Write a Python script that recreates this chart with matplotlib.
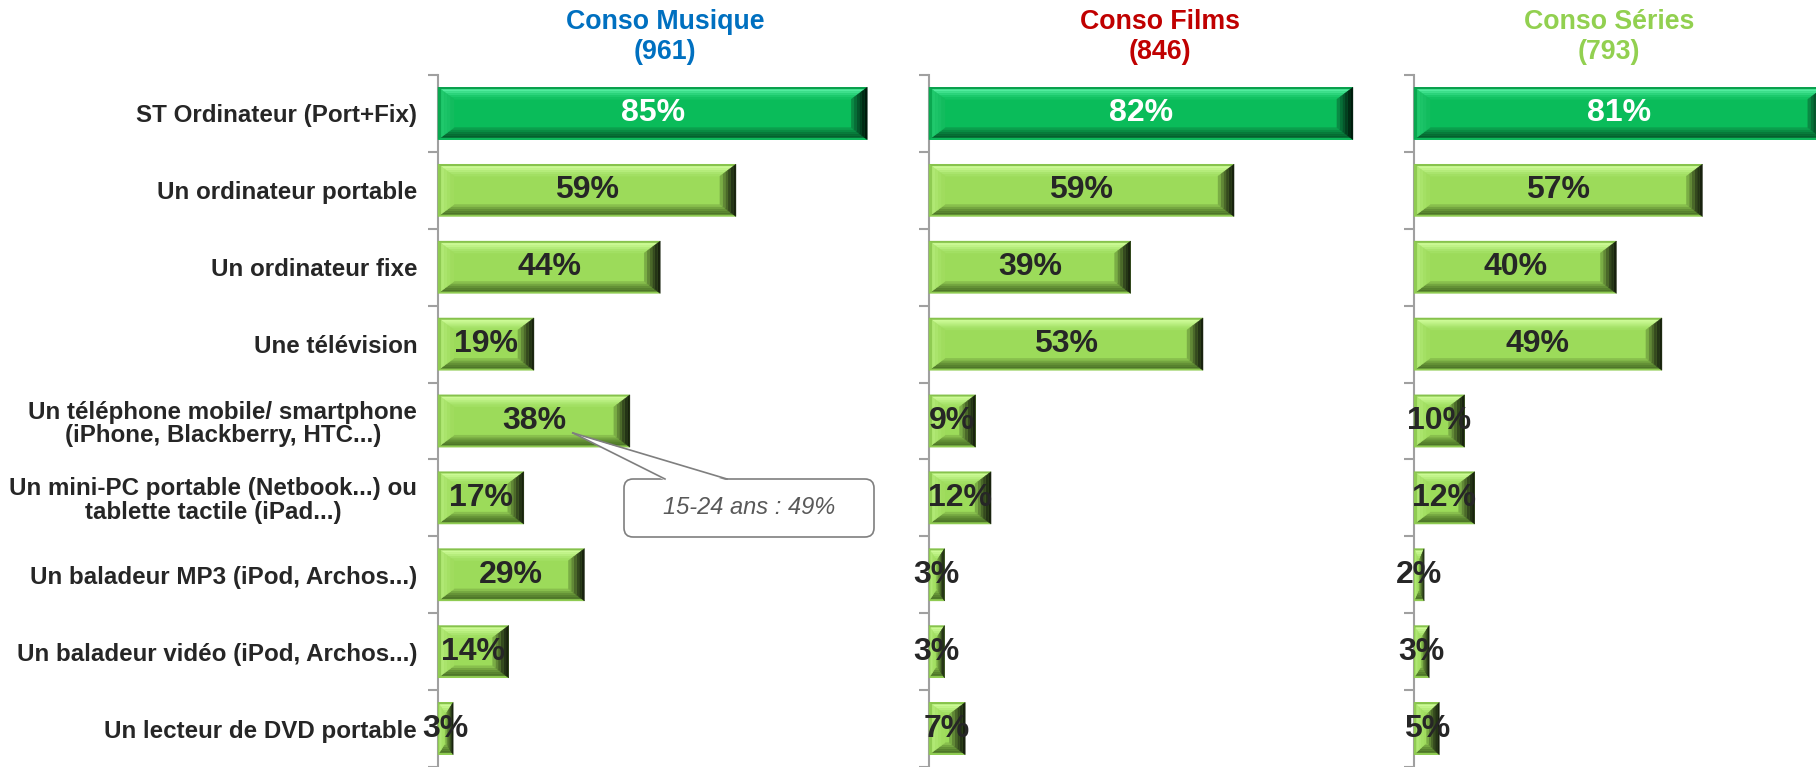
import matplotlib.pyplot as plt
from matplotlib.patches import Polygon, FancyBboxPatch

plt.rcParams['font.family'] = ['Liberation Sans', 'DejaVu Sans']

# Data
categories = [
    "ST Ordinateur (Port+Fix)",
    "Un ordinateur portable",
    "Un ordinateur fixe",
    "Une télévision",
    "Un téléphone mobile/ smartphone\n(iPhone, Blackberry, HTC...)",
    "Un mini-PC portable (Netbook...) ou\ntablette tactile (iPad...)",
    "Un baladeur MP3 (iPod, Archos...)",
    "Un baladeur vidéo (iPod, Archos...)",
    "Un lecteur de DVD portable",
]
panel_titles = ["Conso Musique", "Conso Films", "Conso Séries"]
panel_bases = [961, 846, 793]
musique = [85, 59, 44, 19, 38, 17, 29, 14, 3]
films = [82, 59, 39, 53, 9, 12, 3, 3, 7]
series = [81, 57, 40, 49, 10, 12, 2, 3, 5]
callout_text = "15-24 ans : 49%"

title_colors = ["#0070C0", "#C00000", "#92D050"]

W, H = 1816, 767
fig = plt.figure(figsize=(W / 100, H / 100), dpi=100)

# layout in pixels: (left, width, px per 100%, title centre)
layout = [(438, 454, 505, 665), (929, 462, 517, 1160), (1414, 390, 506, 1609)]
ax_top, ax_h = 75, 692
row_px = ax_h / len(categories)

# bevel colours, outer edge -> inner edge
dark = dict(face="#0ABC5A",
            top=["#0A9E4C", "#52EC9E", "#3EE08C", "#2CD57C", "#1CCA6C", "#12C262"],
            bottom=["#0FB85C", "#05602E", "#066C33", "#077A3A", "#098C43", "#0AA04D"],
            left=["#0AA850", "#20C86C", "#1CC468", "#18C064", "#12BC5E"],
            right=["#001A0C", "#012A14", "#033E1F", "#05552B", "#076E37", "#0A8A44"])
light = dict(face="#9CDB5A",
             top=["#86C24C", "#CCFA96", "#C2F48A", "#B6ED7C", "#AAE56E", "#A2E063"],
             bottom=["#8FCB52", "#4E7629", "#57822E", "#649136", "#74A640", "#88BF4D"],
             left=["#8FCB52", "#B0E874", "#AAE46C", "#A4E064", "#A0DC5E"],
             right=["#18220E", "#243416", "#34491E", "#4A6829", "#618836", "#7AAD45"])


def strips(ax, outer, inner, colors):
    # split one bevel facet into bands running from its outer to inner edge
    n = len(colors)
    for i, c in enumerate(colors):
        t0, t1 = i / n, (i + 1) / n
        p = lambda a, b, t: (a[0] + t * (b[0] - a[0]), a[1] + t * (b[1] - a[1]))
        pts = [p(outer[0], inner[0], t0), p(outer[1], inner[1], t0),
               p(outer[1], inner[1], t1), p(outer[0], inner[0], t1)]
        ax.add_patch(Polygon(pts, closed=True, facecolor=c, edgecolor=c, lw=0.3,
                             zorder=3, clip_on=False))


def bevel_bar(ax, y, v, h, k, col):
    w = v / 100
    ax.barh(y, w, height=h, color=col["face"], zorder=2, clip_on=False)
    bx = min(16, w * k / 2) / k
    by = min(12, h * row_px / 2) / row_px
    y0, y1 = y - h / 2, y + h / 2
    strips(ax, [(0, y0), (w, y0)], [(bx, y0 + by), (w - bx, y0 + by)], col["top"])
    strips(ax, [(0, y1), (w, y1)], [(bx, y1 - by), (w - bx, y1 - by)], col["bottom"])
    strips(ax, [(0, y0), (0, y1)], [(bx, y0 + by), (bx, y1 - by)], col["left"])
    strips(ax, [(w, y0), (w, y1)], [(w - bx, y0 + by), (w - bx, y1 - by)], col["right"])


axes = []
for i, vals in enumerate([musique, films, series]):
    left, width, k, tc = layout[i]
    ax = fig.add_axes([left / W, (H - ax_top - ax_h) / H, width / W, ax_h / H])
    axes.append(ax)
    n = len(vals)
    ax.set_ylim(n - 0.5, -0.5)
    ax.set_xlim(0, width / k)
    for j, v in enumerate(vals):
        col = dark if j == 0 else light
        bevel_bar(ax, j, v, 0.68, k, col)
        ax.text(v / 200, j, f"{v}%", ha="center", va="center", fontsize=23,
                fontweight="bold", color="white" if j == 0 else "#262626", zorder=6)
    for s in ["top", "right", "bottom"]:
        ax.spines[s].set_visible(False)
    ax.spines["left"].set_color("#A0A0A0")
    ax.spines["left"].set_linewidth(1.5)
    ax.set_xticks([])
    ax.set_yticks([j - 0.5 for j in range(n + 1)])
    ax.set_yticklabels([])
    ax.tick_params(axis="y", which="major", length=7, width=1.5, color="#A0A0A0")
    ax.set_yticks(range(n), minor=True)
    if i == 0:
        ax.set_yticklabels(categories, minor=True, fontsize=17.4, fontweight="bold",
                           color="#262626", multialignment="center", linespacing=1.05)
    ax.tick_params(axis="y", which="minor", length=0, pad=15)
    fig.text(tc / W, 1 - 37 / H, f"{panel_titles[i]}\n({panel_bases[i]})",
             ha="center", va="center", fontsize=19.3, fontweight="bold",
             color=title_colors[i], linespacing=1.2)

# callout on the smartphone bar (Musique)
ax = axes[0]
k = layout[0][2]
tip = (0.267, 4.155)
base_y = (479 - ax_top) / row_px - 0.5
bl, br = (665 - 438) / k, (727 - 438) / k
bx0, bw = (624 - 438) / k, 250 / k
by0, bh = base_y, 58 / row_px
box = FancyBboxPatch((bx0, by0), bw, bh, boxstyle="round,pad=0,rounding_size=0.018",
                     mutation_aspect=k / row_px, facecolor="white",
                     edgecolor="#7F7F7F", linewidth=1.2, zorder=7, clip_on=False)
ax.add_patch(box)
ax.add_patch(Polygon([tip, (bl, base_y + 0.02), (br, base_y + 0.02)], closed=True,
                     facecolor="white", edgecolor="none", zorder=8, clip_on=False))
ax.plot([tip[0], bl], [tip[1], base_y], color="#7F7F7F", lw=1.2, zorder=9, clip_on=False)
ax.plot([tip[0], br], [tip[1], base_y], color="#7F7F7F", lw=1.2, zorder=9, clip_on=False)
ax.text(bx0 + bw / 2, by0 + bh / 2, callout_text, ha="center", va="center",
        fontsize=17, style="italic", color="#595959", zorder=10)

fig.savefig("out.png", dpi=100)
